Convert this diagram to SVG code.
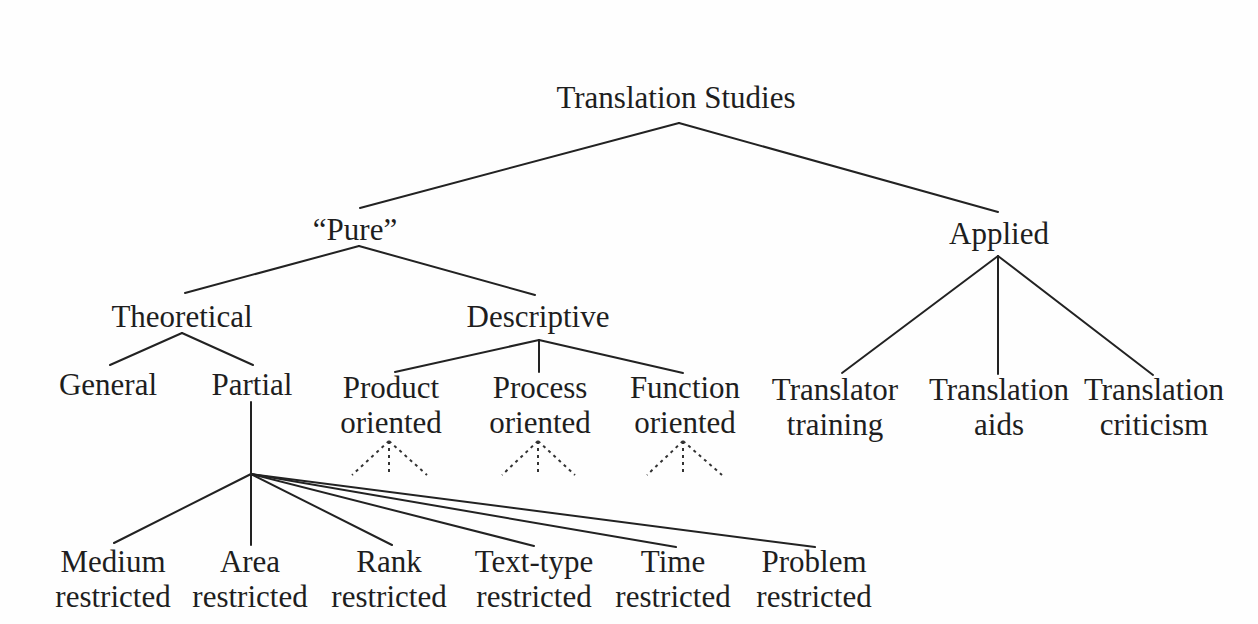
<svg xmlns="http://www.w3.org/2000/svg" width="1258" height="624" viewBox="0 0 1258 624">
<style>
text{font-family:"Liberation Serif","Times New Roman",serif;font-size:31px;fill:#1e1e1e;text-anchor:middle}
.c line{stroke:#222;stroke-width:2;stroke-linecap:round}
.d line{stroke:#333;stroke-width:2;stroke-dasharray:3 4;stroke-linecap:butt}
</style>
<rect width="1258" height="624" fill="#fefefe"/>
<g id="connectors">
<g class="c">
<line x1="679" y1="123" x2="360" y2="208"/>
<line x1="679" y1="123" x2="998" y2="212"/>
<line x1="359" y1="246" x2="185" y2="293"/>
<line x1="359" y1="246" x2="535" y2="295"/>
<line x1="182" y1="333" x2="110" y2="365"/>
<line x1="182" y1="333" x2="253" y2="365"/>
<line x1="539" y1="340" x2="395" y2="372"/>
<line x1="539" y1="340" x2="539" y2="372"/>
<line x1="539" y1="340" x2="683" y2="373"/>
<line x1="998" y1="256" x2="842" y2="373"/>
<line x1="998" y1="256" x2="998" y2="374"/>
<line x1="998" y1="256" x2="1153" y2="375"/>
<line x1="251" y1="402" x2="251" y2="474"/>
<line x1="251" y1="474" x2="114" y2="543"/>
<line x1="251" y1="474" x2="251" y2="545"/>
<line x1="251" y1="474" x2="392" y2="545"/>
<line x1="251" y1="474" x2="534" y2="546"/>
<line x1="251" y1="474" x2="676" y2="547"/>
<line x1="251" y1="474" x2="815" y2="547"/>
</g>
<g class="d">
<line x1="389" y1="441" x2="352" y2="475"/>
<line x1="389" y1="441" x2="389" y2="475"/>
<line x1="389" y1="441" x2="427" y2="475"/>
<line x1="538" y1="441" x2="502" y2="475"/>
<line x1="538" y1="441" x2="538" y2="475"/>
<line x1="538" y1="441" x2="575" y2="475"/>
<line x1="683" y1="441" x2="647" y2="475"/>
<line x1="683" y1="441" x2="683" y2="475"/>
<line x1="683" y1="441" x2="722" y2="475"/>
</g>
</g>
<g id="translation-studies"><text x="676" y="108">Translation Studies</text></g>
<g id="pure"><text x="355" y="240">“Pure”</text></g>
<g id="applied"><text x="999" y="244">Applied</text></g>
<g id="theoretical"><text x="182" y="327">Theoretical</text></g>
<g id="descriptive"><text x="538" y="327">Descriptive</text></g>
<g id="general"><text x="108" y="395">General</text></g>
<g id="partial"><text x="252" y="395">Partial</text></g>
<g id="product"><text x="391" y="398">Product</text><text x="391" y="433">oriented</text></g>
<g id="process"><text x="540" y="398">Process</text><text x="540" y="433">oriented</text></g>
<g id="function"><text x="685" y="398">Function</text><text x="685" y="433">oriented</text></g>
<g id="translator-training"><text x="835" y="400">Translator</text><text x="835" y="435">training</text></g>
<g id="translation-aids"><text x="999" y="400">Translation</text><text x="999" y="435">aids</text></g>
<g id="translation-criticism"><text x="1154" y="400">Translation</text><text x="1154" y="435">criticism</text></g>
<g id="medium"><text x="113" y="572">Medium</text><text x="113" y="607">restricted</text></g>
<g id="area"><text x="250" y="572">Area</text><text x="250" y="607">restricted</text></g>
<g id="rank"><text x="389" y="572">Rank</text><text x="389" y="607">restricted</text></g>
<g id="text-type"><text x="534" y="572">Text-type</text><text x="534" y="607">restricted</text></g>
<g id="time"><text x="673" y="572">Time</text><text x="673" y="607">restricted</text></g>
<g id="problem"><text x="814" y="572">Problem</text><text x="814" y="607">restricted</text></g>
</svg>
